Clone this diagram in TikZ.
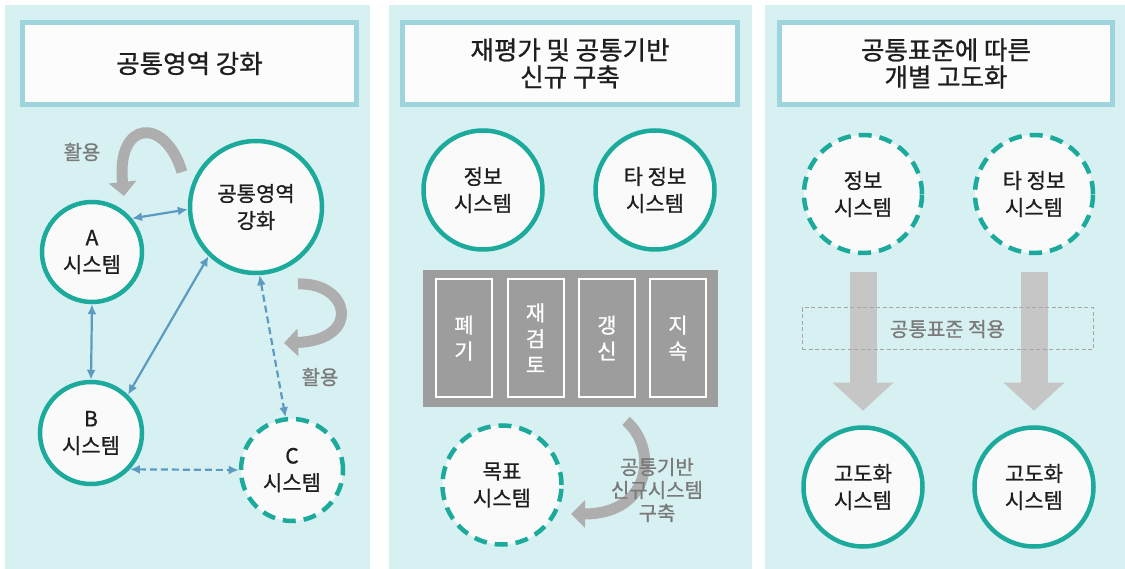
\documentclass[tikz,border=0pt]{standalone}
\usepackage{fontspec}
\setmainfont{Noto Sans CJK KR}[BoldFont={Noto Sans CJK KR},BoldFeatures={FakeBold=0.9}]
\usetikzlibrary{arrows.meta}

\definecolor{panelbg}{HTML}{D7F0F2}
\definecolor{titleline}{HTML}{9ED4DC}
\definecolor{sysline}{HTML}{1BAA9B}
\definecolor{linkblue}{HTML}{5B9AC1}
\definecolor{boxgray}{HTML}{9D9D9D}
\definecolor{flowgray}{HTML}{C6C6C6}
\definecolor{bendgray}{HTML}{AEAEAE}
\definecolor{labelgray}{HTML}{7A7A7A}
\definecolor{inkblack}{HTML}{1E1E1E}

\begin{document}
\begin{tikzpicture}[x=1pt,y=-1pt,
  sysnode/.style={circle,draw=sysline,line width=4.5pt,fill=white!96!gray,align=center,
    inner sep=0pt,text=inkblack,font=\fontsize{21}{27}\selectfont\bfseries},
  plannode/.style={sysnode,dash pattern=on 13pt off 8pt},
  titlebox/.style={draw=titleline,line width=5pt,fill=white!98!gray,align=center,
    minimum height=82pt,text=inkblack,font=\fontsize{25.5}{27}\selectfont\bfseries},
  stepbox/.style={draw=white,line width=2pt,fill=boxgray,text=white,align=center,
    minimum width=56pt,minimum height=118pt,font=\fontsize{21}{26}\selectfont\bfseries},
  uselabel/.style={text=labelgray,align=center,font=\fontsize{20}{23}\selectfont\bfseries},
  link/.style={draw=linkblue,line width=2.2pt,{Latex[length=10pt,width=9pt]}-{Latex[length=10pt,width=9pt]}},
  bendarrow/.style={draw=bendgray,line width=11pt,-{Triangle[length=14pt,width=27pt]}},
  flow/.style={draw=flowgray,line width=27pt,-{Triangle[length=28pt,width=59pt]}}]
  \useasboundingbox (0,0) rectangle (1125,569);
  \fill[white] (0,0) rectangle (1125,569);
  \fill[panelbg] (5,5) rectangle (370,569);
  \fill[panelbg] (389,5) rectangle (752,569);
  \fill[panelbg] (765,5) rectangle (1125,569);

  \node[titlebox,minimum width=334pt] (title1) at (189.5,63.5) {공통영역 강화};
  \node[titlebox,minimum width=335pt] (title2) at (570,63.5) {재평가 및 공통기반\\신규 구축};
  \node[titlebox,minimum width=333pt] (title3) at (946,63.5) {공통표준에 따른\\개별 고도화};

  \node[sysnode,minimum size=132pt] (core) at (256,207) {공통영역\\강화};
  \node[sysnode,minimum size=100pt] (sysA) at (92,252) {A\\시스템};
  \node[sysnode,minimum size=102pt] (sysB) at (91,433) {B\\시스템};
  \node[plannode,minimum size=102pt] (sysC) at (292,470) {C\\시스템};
  \draw[link] (sysA.40) -- (core.182);
  \draw[link] (sysA.south) -- (sysB.north);
  \draw[link] (sysB.46) -- (core.226);
  \draw[link,dash pattern=on 7pt off 4pt] (core.273) -- (sysC.97);
  \draw[link,dash pattern=on 7pt off 4pt] (sysB.-43) -- (sysC.180);
  \coordinate (useA) at (182,172); \coordinate (useB) at (124,196);
  \draw[bendarrow] (useA) .. controls (165,116) and (116,120) .. (useB);
  \node[uselabel] (useAlbl) at (82,152) {활용};
  \coordinate (useC) at (298,284); \coordinate (useD) at (284,343);
  \draw[bendarrow] (useC) .. controls (350,282) and (362,340) .. (useD);
  \node[uselabel] (useClbl) at (320,377) {활용};

  \node[sysnode,minimum size=119pt] (info2) at (483,190) {정보\\시스템};
  \node[sysnode,minimum size=119pt] (other2) at (655,190) {타 정보\\시스템};
  \node[fill=boxgray,minimum width=295pt,minimum height=137pt] (review) at (570.5,338.5) {};
  \node[stepbox] (discard) at (464,338) {폐\\기};
  \node[stepbox] (recheck) at (535.5,338) {재\\검\\토};
  \node[stepbox] (renew) at (607,338) {갱\\신};
  \node[stepbox] (keep) at (678,338) {지\\속};
  \node[plannode,minimum size=119pt] (goal) at (502,485) {목표\\시스템};
  \coordinate (newA) at (626,421); \coordinate (newB) at (571,514);
  \draw[bendarrow] (newA) .. controls (658,448) and (652,514) .. (newB);
  \node[uselabel] (newlbl) at (657,490) {공통기반\\신규시스템\\구축};

  \node[plannode,minimum size=118pt] (info3) at (863,194) {정보\\시스템};
  \node[plannode,minimum size=118pt] (other3) at (1034,194) {타 정보\\시스템};
  \node[sysnode,minimum size=119pt] (high1) at (863,487) {고도화\\시스템};
  \node[sysnode,minimum size=119pt] (high2) at (1034,487) {고도화\\시스템};
  \draw[flow] ([yshift=-17pt]info3.south) -- ([yshift=14.5pt]high1.north);
  \draw[flow] ([yshift=-17pt]other3.south) -- ([yshift=14.5pt]high2.north);
  \node[draw=gray!70,dash pattern=on 4pt off 2.5pt,line width=1pt,minimum width=291pt,
    minimum height=42pt,text=labelgray,font=\fontsize{20}{23}\selectfont\bfseries] (stdbox) at (947.5,329) {공통표준 적용};
\end{tikzpicture}
\end{document}
